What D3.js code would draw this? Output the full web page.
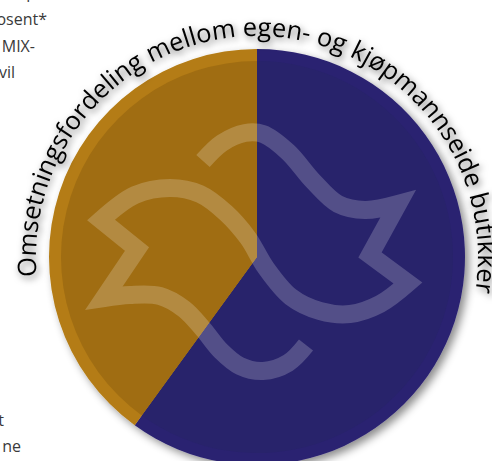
<!DOCTYPE html>
<html><head><meta charset="utf-8">
<script src="https://cdn.jsdelivr.net/npm/d3@7"></script>
<style>
html,body{margin:0;padding:0;background:#fff;}
svg{display:block;}
</style></head>
<body>
<script>
// ---- data ----
const categories = ["Kjøpmannseide butikker", "Egeneide butikker"];
const values = [60, 40];
const ringColors = ["#2c2371", "#b47c14"];
const innerColors = ["#28236b", "#a06d12"];
const title = "Omsetningsfordeling mellom egen- og kjøpmannseide butikker";
const sideTexts = ["p", "osent*", "MIX-", "vil", "t", "ne"];

// ---- layout ----
const W = 492, H = 461;
const cx = 257, cy = 257, R = 208, ringW = 12, textR = 221;

const svg = d3.select("body").append("svg").attr("width", W).attr("height", H);
const defs = svg.append("defs");
const sh = defs.append("filter").attr("id", "circShadow").attr("x", "-20%").attr("y", "-20%").attr("width", "140%").attr("height", "140%");
sh.append("feDropShadow").attr("dx", 4).attr("dy", 4).attr("stdDeviation", 4).attr("flood-color", "#000").attr("flood-opacity", 0.45);
const tsh = defs.append("filter").attr("id", "textShadow").attr("x", "-20%").attr("y", "-20%").attr("width", "140%").attr("height", "140%");
tsh.append("feDropShadow").attr("dx", 2).attr("dy", 3).attr("stdDeviation", 3.5).attr("flood-color", "#000").attr("flood-opacity", 0.6);

// side paragraph fragments (cut off at left edge)
const sideLayout = [
  {x: 36, y: -2}, {x: 47, y: 25}, {x: 35, y: 52}, {x: 15, y: 78}, {x: 4, y: 426}, {x: 21, y: 452}
];
svg.append("g").selectAll("text").data(sideTexts).join("text")
  .attr("x", (d, i) => sideLayout[i].x).attr("y", (d, i) => sideLayout[i].y)
  .attr("text-anchor", "end")
  .attr("font-family", "'Open Sans', sans-serif").attr("font-size", 16).attr("fill", "#3a3a3a")
  .text(d => d);

const g = svg.append("g").attr("transform", `translate(${cx},${cy})`);
const pie = d3.pie().sort(null).value(d => d)(values);
const arcOuter = d3.arc().innerRadius(0).outerRadius(R);
const arcInner = d3.arc().innerRadius(0).outerRadius(R - ringW);

const pieG = g.append("g").attr("filter", "url(#circShadow)");
pieG.selectAll("path.outer").data(pie).join("path").attr("class", "outer")
  .attr("d", arcOuter).attr("fill", (d, i) => ringColors[i]);
g.selectAll("path.inner").data(pie).join("path").attr("class", "inner")
  .attr("d", arcInner).attr("fill", (d, i) => innerColors[i]);

// decorative dove logo (semi-transparent overlay), coordinates relative to circle centre
const rel = pts => pts.map(p => [p[0] - cx, p[1] - cy]);
const smooth = d3.line().curve(d3.curveCatmullRom.alpha(0.5));
function seg(pts, first) {
  const s = smooth(rel(pts));
  return first ? s : s.replace(/^M[^A-Za-z]*/, "");
}
function lin(p) { const r = rel([p])[0]; return `L${r[0]},${r[1]}`; }
const doveA =
  seg([[203,161],[222,143],[245,133],[263,134],[288,152],[313,181],[338,204],[365,210],[398,204]], true) +
  lin([370,255]) + lin([408,283]) +
  seg([[408,283],[380,304],[350,314],[320,311],[291,297],[266,268],[248,238],[226,213],[200,194],[170,188],[135,195],[101,220]]) +
  lin([137,249]) + lin([104,298]) +
  seg([[104,298],[130,295],[160,296],[184,309],[203,329],[221,351],[240,366],[263,371],[288,363],[306,345]]);
g.append("path").attr("d", doveA)
  .attr("fill", "none").attr("stroke", "#fff").attr("stroke-opacity", 0.2)
  .attr("stroke-width", 18).attr("stroke-linejoin", "miter").attr("stroke-miterlimit", 10);

// curved title
defs.append("path").attr("id", "titleArc").attr("d", `M${cx},${cy + textR} A${textR},${textR} 0 1 1 ${cx},${cy - textR} A${textR},${textR} 0 1 1 ${cx},${cy + textR}`);
const centerAngle = 2 * Math.PI / 180;
svg.append("text")
  .attr("font-family", "'Open Sans', sans-serif").attr("font-size", 25.5).attr("fill", "#000")
  .attr("filter", "url(#textShadow)")
  .append("textPath").attr("href", "#titleArc")
  .attr("startOffset", Math.PI * textR + textR * centerAngle)
  .attr("text-anchor", "middle")
  .text(title);
</script>
</body></html>
